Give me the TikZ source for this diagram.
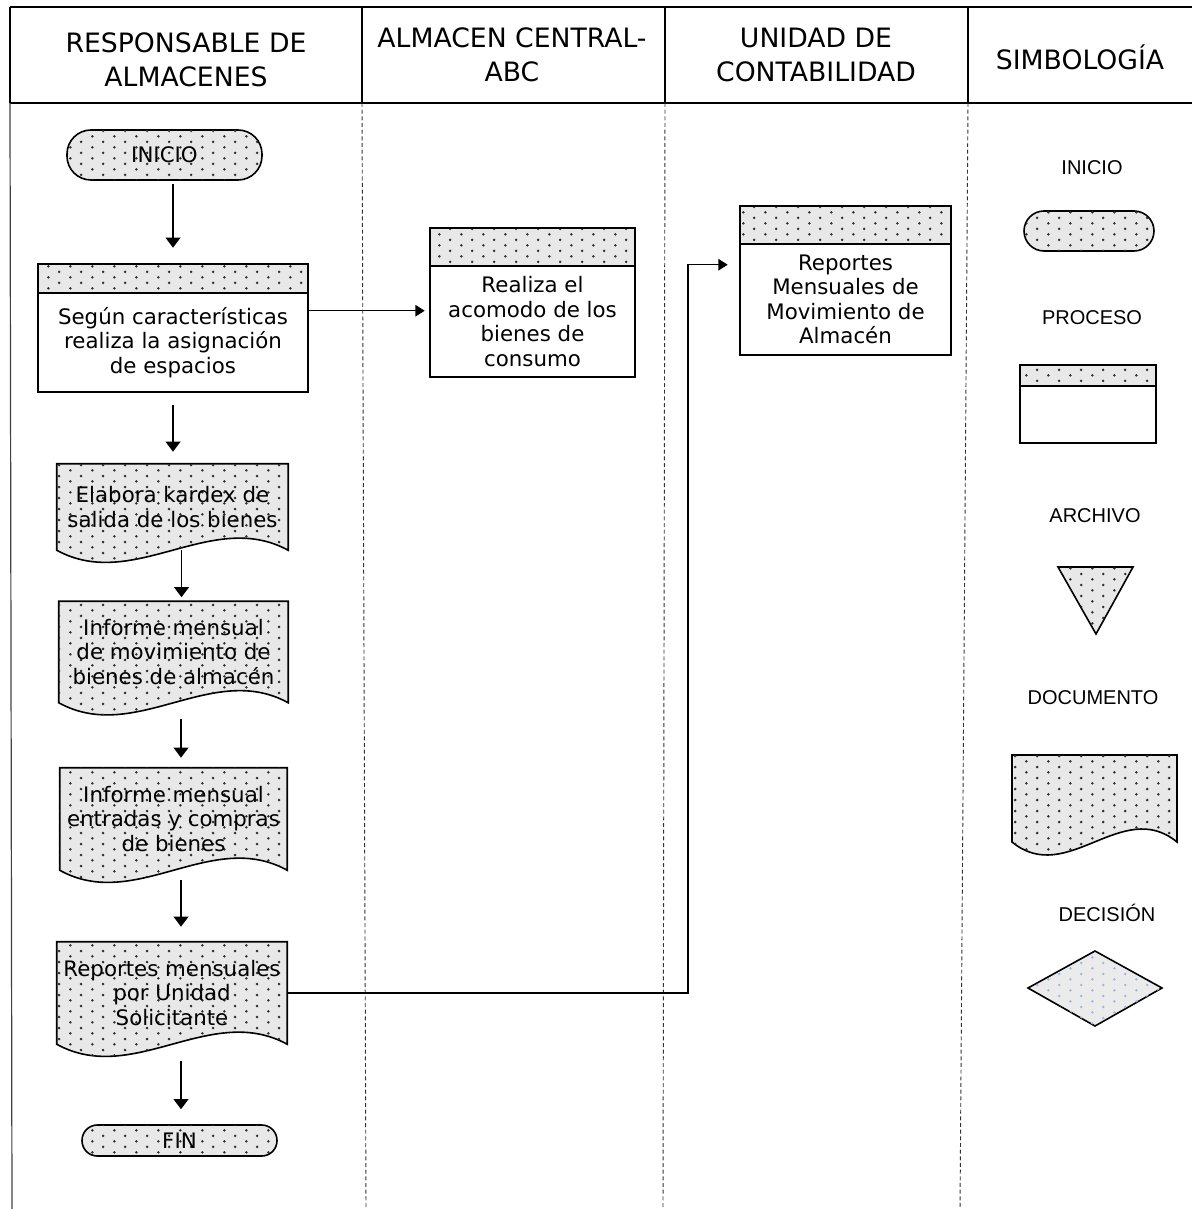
\documentclass[tikz,border=0pt]{standalone}
\usepackage{fontspec}
\setmainfont{DejaVu Sans}
\newfontfamily\legfont{Liberation Sans}
\usetikzlibrary{arrows.meta,calc,patterns,backgrounds}
\definecolor{shade}{gray}{0.91}
\definecolor{dotdark}{gray}{0.18}
\definecolor{dotblue}{RGB}{160,184,225}

% staggered dot screen used for the shaded symbols
\pgfdeclarepatternformonly{spots}{\pgfqpoint{0pt}{0pt}}{\pgfqpoint{16.3pt}{8.1pt}}{\pgfqpoint{16.3pt}{8.1pt}}{%
  \pgfpathcircle{\pgfqpoint{4.075pt}{2.025pt}}{1.05pt}%
  \pgfpathcircle{\pgfqpoint{12.225pt}{6.075pt}}{1.05pt}%
  \pgfusepath{fill}}

\tikzset{
  speckle/.style={fill=shade, postaction={pattern=spots, pattern color=dotdark}},
  bluespeckle/.style={fill=black!8, postaction={pattern=spots, pattern color=dotblue}},
  outline/.style={draw=black, line width=1.2pt},
  flowtext/.style={font=\fontsize{16}{18.4}\selectfont, align=center, inner sep=0pt},
  term/.style={flowtext, speckle, outline, rounded corners=18pt},
  arr/.style={line width=1.1pt, -{Triangle[width=11pt,length=7.5pt]}},
  smallarr/.style={line width=1.1pt, -{Triangle[width=8.5pt,length=7pt]}},
  lane/.style={line width=0.7pt, dash pattern=on 3pt off 2pt, draw=black!80},
  frame/.style={line width=1.5pt},
  head/.style={font=\fontsize{20}{25.5}\selectfont, align=center, inner sep=0pt},
  legtext/.style={font=\legfont\fontsize{15}{18}\selectfont, inner sep=0pt},
}

% bottom-waved document outline built on a node's corners
\newcommand\docoutline[1]{%
  (#1.north west) -- (#1.north east) -- (#1.south east)
  .. controls ($(#1.south east)!0.333!(#1.south west)+(0,-42)$)
  and ($(#1.south east)!0.667!(#1.south west)+(0,42)$) .. (#1.south west) -- cycle}

\begin{document}
\begin{tikzpicture}[x=0.75pt, y=-0.75pt]
\useasboundingbox (0,0) rectangle (1192,1209);

% ---- swimlane frame ----
\draw[frame] (10,7) -- (1192,7);
\draw[frame] (10,103) -- (1192,103);
\foreach \lx in {10,362,665,968} \draw[frame] (\lx,7) -- (\lx,103);
\draw[line width=0.9pt, draw=black!75] (10,103) -- (12,1209);
\draw[lane] (362,103) -- (366,1209);
\draw[lane] (665,103) -- (663,1209);
\draw[lane] (968,103) -- (960,1209);

\node[head] (h1) at (186,60) {RESPONSABLE DE\\ALMACENES};
\node[head] (h2) at (512,55) {ALMACEN CENTRAL-\\ABC};
\node[head] (h3) at (816,55) {UNIDAD DE\\CONTABILIDAD};
\node[head] (h4) at (1080,57) {SIMBOLOGÍA};

% ---- flow nodes ----
\node[term, minimum width=146.25pt, minimum height=37.5pt] (ini) at (164.5,155) {INICIO};

\node[flowtext, minimum width=202.5pt, minimum height=74.25pt] (p1) at (173,342.5)
  {Según características\\realiza la asignación\\de espacios};
\node[flowtext, minimum width=153.75pt, minimum height=83.25pt] (p2) at (532.5,321.5)
  {Realiza el\\acomodo de los\\bienes de\\consumo};
\node[flowtext, minimum width=158.25pt, minimum height=83.25pt] (p3) at (845.5,299.5)
  {Reportes\\Mensuales de\\Movimiento de\\Almacén};

\node[flowtext, minimum width=173.25pt, minimum height=64.5pt] (d1) at (172.5,507)
  {Elabora kardex de\\salida de los bienes};
\node[flowtext, minimum width=171.75pt, minimum height=75.75pt] (d2) at (173.5,652)
  {Informe mensual\\de movimiento de\\bienes de almacén};
\node[flowtext, minimum width=170.25pt, minimum height=76.5pt] (d3) at (173.5,819)
  {Informe mensual\\entradas y compras\\de bienes};
\node[flowtext, minimum width=172.5pt, minimum height=76.5pt] (d4) at (172,993)
  {Reportes mensuales\\por Unidad\\Solicitante};

\node[term, rounded corners=11.5pt, minimum width=146.25pt, minimum height=23.25pt] (fin) at (179.5,1140.5) {FIN};

\begin{scope}[on background layer]
  % process boxes: speckled title strip above the text area
  \foreach \pn/\sh in {p1/29, p2/38, p3/38} {
    \path[speckle] ($(\pn.north west)+(0,-\sh)$) rectangle (\pn.north east);
    \draw[outline] ($(\pn.north west)+(0,-\sh)$) rectangle (\pn.south east);
    \draw[outline] (\pn.north west) -- (\pn.north east);
  }
  % documents
  \foreach \dn in {d1,d2,d3,d4} {
    \path[speckle, outline] \docoutline{\dn};
  }
\end{scope}

% ---- connectors ----
\draw[arr] ($(ini.south -| p1.north)+(0,3)$) -- ($(p1.north)+(0,-45)$);
\coordinate (a1) at ($(p1.north east)+(0,18)$);
\draw[smallarr] (a1) -- ($(a1 -| p2.west)+(-5,0)$);
\draw[arr] ($(p1.south)+(0,13)$) -- ($(p1.south |- d1.north)+(0,-12)$);
\draw[arr] ($(d1.south)+(9,0)$) -- ($(d1.south |- d2.north)+(9,-4)$);
\draw[arr] ($(d2.south)+(7.5,16)$) -- ($(d2.south |- d3.north)+(7.5,-10)$);
\draw[arr] ($(d3.south)+(7.5,10)$) -- ($(d3.south |- d4.north)+(7.5,-15)$);
\draw[arr] ($(d4.south)+(9,17)$) -- ($(d4.south |- fin.north)+(9,-15)$);
\coordinate (bend) at (688,300);
\coordinate (p3in) at ($(p3.north west)+(-12,21)$);
\draw[smallarr] (d4.east) -| (bend) |- (p3in);

% ---- symbol legend ----
\node[legtext] (lg1) at (1092,168) {INICIO};
\path[speckle, outline, rounded corners=15pt] (1024,211) rectangle (1154,251);
\node[legtext] (lg2) at (1092,318) {PROCESO};
\path[speckle] (1020,365) rectangle (1156,386);
\draw[outline] (1020,365) rectangle (1156,443);
\draw[outline] (1020,386) -- (1156,386);
\node[legtext] (lg3) at (1095,516) {ARCHIVO};
\path[speckle, outline] (1058,567) -- (1133,567) -- (1096,634) -- cycle;
\node[legtext] (lg4) at (1093,698) {DOCUMENTO};
\path[speckle, outline] (1012,755) -- (1177,755) -- (1177,842)
  .. controls (1122,797) and (1067,887) .. (1012,842) -- cycle;
\node[legtext] (lg5) at (1107,913) {DECISIÓN};
\path[bluespeckle, outline] (1028,988) -- (1095,951) -- (1162,988) -- (1095,1026) -- cycle;
\end{tikzpicture}
\end{document}
